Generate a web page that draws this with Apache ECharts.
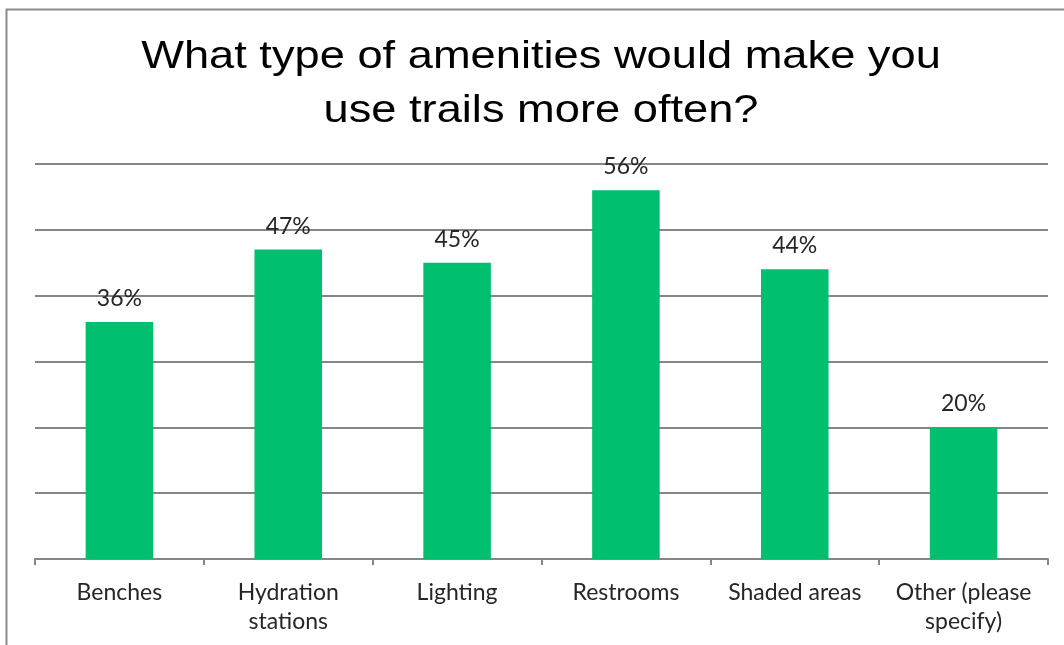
<!DOCTYPE html>
<html>
<head>
<meta charset="utf-8">
<script src="https://cdn.jsdelivr.net/npm/echarts@6/dist/echarts.min.js"></script>
<style>
  html, body { margin: 0; padding: 0; background: #fff; }
  #chart { width: 1064px; height: 645px; }
</style>
</head>
<body>
<div id="chart"></div>
<script>
// Survey answers: share of respondents choosing each amenity
const categories = ['Benches', 'Hydration\nstations', 'Lighting', 'Restrooms', 'Shaded areas', 'Other (please\nspecify)'];
const values = [36, 47, 45, 56, 44, 20];
const titleLines = ['What type of amenities would make you', 'use trails more often?'];

const chart = echarts.init(document.getElementById('chart'), null, { renderer: 'canvas' });

// Title is drawn as two centred text lines, slightly widened horizontally
const titleGraphics = titleLines.map(function (line, i) {
  return {
    type: 'text',
    x: 541,
    y: 57 + i * 54,
    scaleX: 1.16,
    silent: true,
    style: {
      text: line,
      font: '39px "Liberation Sans", Arial, sans-serif',
      fill: '#000000',
      textAlign: 'center',
      textVerticalAlign: 'middle'
    }
  };
});

chart.setOption({
  animation: false,
  backgroundColor: '#ffffff',
  graphic: [{
    type: 'rect',
    shape: { x: 6.5, y: 9.5, width: 1200, height: 800 },
    style: { fill: 'none', stroke: '#8c8c8c', lineWidth: 2 },
    silent: true
  }].concat(titleGraphics),
  grid: {
    left: 35,
    right: 16,
    top: 164,
    bottom: 86,
    containLabel: false
  },
  xAxis: {
    type: 'category',
    data: categories,
    axisLine: { show: true, lineStyle: { color: '#868686', width: 2 } },
    axisTick: { show: true, length: 6, alignWithLabel: false, lineStyle: { color: '#868686', width: 2 } },
    axisLabel: {
      interval: 0,
      margin: 19,
      fontFamily: 'Lato, Open Sans, sans-serif',
      fontSize: 23,
      lineHeight: 29,
      color: '#262626'
    }
  },
  yAxis: {
    type: 'value',
    min: 0,
    max: 60,
    interval: 10,
    axisLine: { show: false },
    axisTick: { show: false },
    axisLabel: { show: false },
    splitLine: { show: true, lineStyle: { color: '#868686', width: 2 } }
  },
  series: [{
    type: 'bar',
    data: values,
    barWidth: '40%',
    itemStyle: { color: '#00BF6F' },
    label: {
      show: true,
      position: 'top',
      distance: 12,
      formatter: '{c}%',
      fontFamily: 'Lato, Open Sans, sans-serif',
      fontSize: 23,
      color: '#262626'
    }
  }]
});
</script>
</body>
</html>
